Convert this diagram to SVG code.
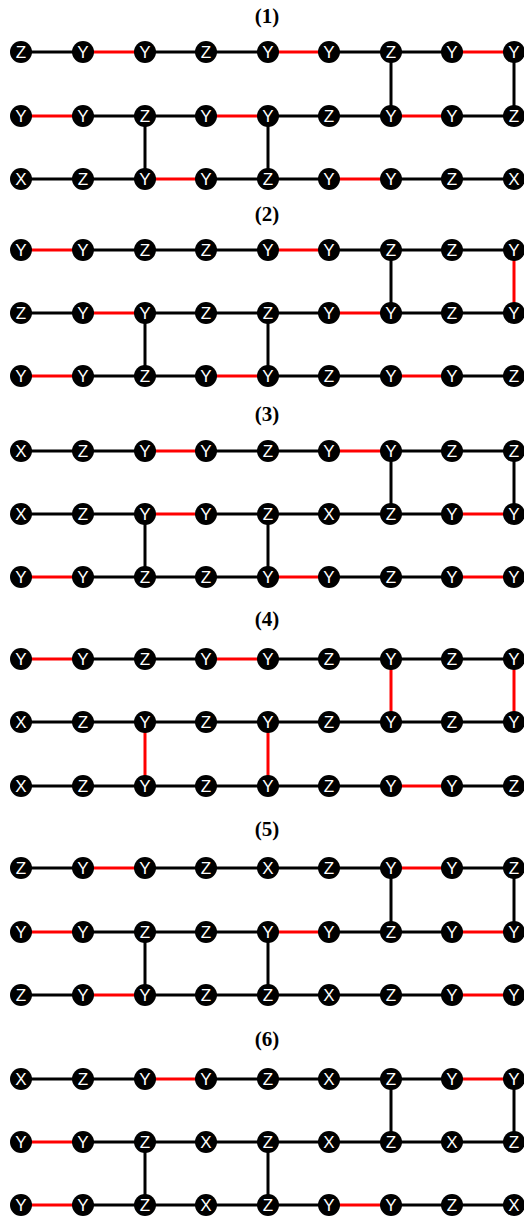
<svg xmlns="http://www.w3.org/2000/svg" width="524" height="1219" viewBox="0 0 524 1219">
<style>
.title{font-family:"Liberation Serif","Times New Roman",serif;font-weight:bold;font-size:21px;text-anchor:middle;fill:#000}
.n circle{fill:#000}
.n text{font-family:"Liberation Sans",Arial,sans-serif;font-size:17px;fill:#fff;text-anchor:middle}
.k{stroke:#000;stroke-width:3}
.r{stroke:#f00;stroke-width:3}
</style>
<rect width="524" height="1219" fill="#fff"/>
<g id="titles">
<text class="title" x="267" y="23">(1)</text>
<text class="title" x="267" y="221">(2)</text>
<text class="title" x="267" y="421">(3)</text>
<text class="title" x="267" y="626">(4)</text>
<text class="title" x="267" y="836">(5)</text>
<text class="title" x="267" y="1046">(6)</text>
</g>
<g id="connectors">
<!-- panel 1 -->
<line class="k" x1="21" y1="52" x2="83" y2="52"/><line class="r" x1="83" y1="52" x2="145" y2="52"/><line class="k" x1="145" y1="52" x2="206" y2="52"/><line class="k" x1="206" y1="52" x2="268" y2="52"/><line class="r" x1="268" y1="52" x2="329" y2="52"/><line class="k" x1="329" y1="52" x2="391" y2="52"/><line class="k" x1="391" y1="52" x2="452" y2="52"/><line class="r" x1="452" y1="52" x2="514" y2="52"/>
<line class="r" x1="21" y1="116" x2="83" y2="116"/><line class="k" x1="83" y1="116" x2="145" y2="116"/><line class="k" x1="145" y1="116" x2="206" y2="116"/><line class="r" x1="206" y1="116" x2="268" y2="116"/><line class="k" x1="268" y1="116" x2="329" y2="116"/><line class="k" x1="329" y1="116" x2="391" y2="116"/><line class="r" x1="391" y1="116" x2="452" y2="116"/><line class="k" x1="452" y1="116" x2="514" y2="116"/>
<line class="k" x1="21" y1="179" x2="83" y2="179"/><line class="k" x1="83" y1="179" x2="145" y2="179"/><line class="r" x1="145" y1="179" x2="206" y2="179"/><line class="k" x1="206" y1="179" x2="268" y2="179"/><line class="k" x1="268" y1="179" x2="329" y2="179"/><line class="r" x1="329" y1="179" x2="391" y2="179"/><line class="k" x1="391" y1="179" x2="452" y2="179"/><line class="k" x1="452" y1="179" x2="514" y2="179"/>
<line class="k" x1="145" y1="116" x2="145" y2="179"/><line class="k" x1="268" y1="116" x2="268" y2="179"/><line class="k" x1="391" y1="52" x2="391" y2="116"/><line class="k" x1="514" y1="52" x2="514" y2="116"/>
<!-- panel 2 -->
<line class="r" x1="21" y1="250" x2="83" y2="250"/><line class="k" x1="83" y1="250" x2="145" y2="250"/><line class="k" x1="145" y1="250" x2="206" y2="250"/><line class="k" x1="206" y1="250" x2="268" y2="250"/><line class="r" x1="268" y1="250" x2="329" y2="250"/><line class="k" x1="329" y1="250" x2="391" y2="250"/><line class="k" x1="391" y1="250" x2="452" y2="250"/><line class="k" x1="452" y1="250" x2="514" y2="250"/>
<line class="k" x1="21" y1="313" x2="83" y2="313"/><line class="r" x1="83" y1="313" x2="145" y2="313"/><line class="k" x1="145" y1="313" x2="206" y2="313"/><line class="k" x1="206" y1="313" x2="268" y2="313"/><line class="k" x1="268" y1="313" x2="329" y2="313"/><line class="r" x1="329" y1="313" x2="391" y2="313"/><line class="k" x1="391" y1="313" x2="452" y2="313"/><line class="k" x1="452" y1="313" x2="514" y2="313"/>
<line class="r" x1="21" y1="376" x2="83" y2="376"/><line class="k" x1="83" y1="376" x2="145" y2="376"/><line class="k" x1="145" y1="376" x2="206" y2="376"/><line class="r" x1="206" y1="376" x2="268" y2="376"/><line class="k" x1="268" y1="376" x2="329" y2="376"/><line class="k" x1="329" y1="376" x2="391" y2="376"/><line class="r" x1="391" y1="376" x2="452" y2="376"/><line class="k" x1="452" y1="376" x2="514" y2="376"/>
<line class="k" x1="145" y1="313" x2="145" y2="376"/><line class="k" x1="268" y1="313" x2="268" y2="376"/><line class="k" x1="391" y1="250" x2="391" y2="313"/><line class="r" x1="514" y1="250" x2="514" y2="313"/>
<!-- panel 3 -->
<line class="k" x1="21" y1="451" x2="83" y2="451"/><line class="k" x1="83" y1="451" x2="145" y2="451"/><line class="r" x1="145" y1="451" x2="206" y2="451"/><line class="k" x1="206" y1="451" x2="268" y2="451"/><line class="k" x1="268" y1="451" x2="329" y2="451"/><line class="r" x1="329" y1="451" x2="391" y2="451"/><line class="k" x1="391" y1="451" x2="452" y2="451"/><line class="k" x1="452" y1="451" x2="514" y2="451"/>
<line class="k" x1="21" y1="514" x2="83" y2="514"/><line class="k" x1="83" y1="514" x2="145" y2="514"/><line class="r" x1="145" y1="514" x2="206" y2="514"/><line class="k" x1="206" y1="514" x2="268" y2="514"/><line class="k" x1="268" y1="514" x2="329" y2="514"/><line class="k" x1="329" y1="514" x2="391" y2="514"/><line class="k" x1="391" y1="514" x2="452" y2="514"/><line class="r" x1="452" y1="514" x2="514" y2="514"/>
<line class="r" x1="21" y1="577" x2="83" y2="577"/><line class="k" x1="83" y1="577" x2="145" y2="577"/><line class="k" x1="145" y1="577" x2="206" y2="577"/><line class="k" x1="206" y1="577" x2="268" y2="577"/><line class="r" x1="268" y1="577" x2="329" y2="577"/><line class="k" x1="329" y1="577" x2="391" y2="577"/><line class="k" x1="391" y1="577" x2="452" y2="577"/><line class="r" x1="452" y1="577" x2="514" y2="577"/>
<line class="k" x1="145" y1="514" x2="145" y2="577"/><line class="k" x1="268" y1="514" x2="268" y2="577"/><line class="k" x1="391" y1="451" x2="391" y2="514"/><line class="k" x1="514" y1="451" x2="514" y2="514"/>
<!-- panel 4 -->
<line class="r" x1="21" y1="659" x2="83" y2="659"/><line class="k" x1="83" y1="659" x2="145" y2="659"/><line class="k" x1="145" y1="659" x2="206" y2="659"/><line class="r" x1="206" y1="659" x2="268" y2="659"/><line class="k" x1="268" y1="659" x2="329" y2="659"/><line class="k" x1="329" y1="659" x2="391" y2="659"/><line class="k" x1="391" y1="659" x2="452" y2="659"/><line class="k" x1="452" y1="659" x2="514" y2="659"/>
<line class="k" x1="21" y1="722" x2="83" y2="722"/><line class="k" x1="83" y1="722" x2="145" y2="722"/><line class="k" x1="145" y1="722" x2="206" y2="722"/><line class="k" x1="206" y1="722" x2="268" y2="722"/><line class="k" x1="268" y1="722" x2="329" y2="722"/><line class="k" x1="329" y1="722" x2="391" y2="722"/><line class="k" x1="391" y1="722" x2="452" y2="722"/><line class="k" x1="452" y1="722" x2="514" y2="722"/>
<line class="k" x1="21" y1="786" x2="83" y2="786"/><line class="k" x1="83" y1="786" x2="145" y2="786"/><line class="k" x1="145" y1="786" x2="206" y2="786"/><line class="k" x1="206" y1="786" x2="268" y2="786"/><line class="k" x1="268" y1="786" x2="329" y2="786"/><line class="k" x1="329" y1="786" x2="391" y2="786"/><line class="r" x1="391" y1="786" x2="452" y2="786"/><line class="k" x1="452" y1="786" x2="514" y2="786"/>
<line class="r" x1="145" y1="722" x2="145" y2="786"/><line class="r" x1="268" y1="722" x2="268" y2="786"/><line class="r" x1="391" y1="659" x2="391" y2="722"/><line class="r" x1="514" y1="659" x2="514" y2="722"/>
<!-- panel 5 -->
<line class="k" x1="21" y1="868" x2="83" y2="868"/><line class="r" x1="83" y1="868" x2="145" y2="868"/><line class="k" x1="145" y1="868" x2="206" y2="868"/><line class="k" x1="206" y1="868" x2="268" y2="868"/><line class="k" x1="268" y1="868" x2="329" y2="868"/><line class="k" x1="329" y1="868" x2="391" y2="868"/><line class="r" x1="391" y1="868" x2="452" y2="868"/><line class="k" x1="452" y1="868" x2="514" y2="868"/>
<line class="r" x1="21" y1="932" x2="83" y2="932"/><line class="k" x1="83" y1="932" x2="145" y2="932"/><line class="k" x1="145" y1="932" x2="206" y2="932"/><line class="k" x1="206" y1="932" x2="268" y2="932"/><line class="r" x1="268" y1="932" x2="329" y2="932"/><line class="k" x1="329" y1="932" x2="391" y2="932"/><line class="k" x1="391" y1="932" x2="452" y2="932"/><line class="r" x1="452" y1="932" x2="514" y2="932"/>
<line class="k" x1="21" y1="995" x2="83" y2="995"/><line class="r" x1="83" y1="995" x2="145" y2="995"/><line class="k" x1="145" y1="995" x2="206" y2="995"/><line class="k" x1="206" y1="995" x2="268" y2="995"/><line class="k" x1="268" y1="995" x2="329" y2="995"/><line class="k" x1="329" y1="995" x2="391" y2="995"/><line class="k" x1="391" y1="995" x2="452" y2="995"/><line class="r" x1="452" y1="995" x2="514" y2="995"/>
<line class="k" x1="145" y1="932" x2="145" y2="995"/><line class="k" x1="268" y1="932" x2="268" y2="995"/><line class="k" x1="391" y1="868" x2="391" y2="932"/><line class="k" x1="514" y1="868" x2="514" y2="932"/>
<!-- panel 6 -->
<line class="k" x1="21" y1="1079" x2="83" y2="1079"/><line class="k" x1="83" y1="1079" x2="145" y2="1079"/><line class="r" x1="145" y1="1079" x2="206" y2="1079"/><line class="k" x1="206" y1="1079" x2="268" y2="1079"/><line class="k" x1="268" y1="1079" x2="329" y2="1079"/><line class="k" x1="329" y1="1079" x2="391" y2="1079"/><line class="k" x1="391" y1="1079" x2="452" y2="1079"/><line class="r" x1="452" y1="1079" x2="514" y2="1079"/>
<line class="r" x1="21" y1="1142" x2="83" y2="1142"/><line class="k" x1="83" y1="1142" x2="145" y2="1142"/><line class="k" x1="145" y1="1142" x2="206" y2="1142"/><line class="k" x1="206" y1="1142" x2="268" y2="1142"/><line class="k" x1="268" y1="1142" x2="329" y2="1142"/><line class="k" x1="329" y1="1142" x2="391" y2="1142"/><line class="k" x1="391" y1="1142" x2="452" y2="1142"/><line class="k" x1="452" y1="1142" x2="514" y2="1142"/>
<line class="r" x1="21" y1="1205" x2="83" y2="1205"/><line class="k" x1="83" y1="1205" x2="145" y2="1205"/><line class="k" x1="145" y1="1205" x2="206" y2="1205"/><line class="k" x1="206" y1="1205" x2="268" y2="1205"/><line class="k" x1="268" y1="1205" x2="329" y2="1205"/><line class="r" x1="329" y1="1205" x2="391" y2="1205"/><line class="k" x1="391" y1="1205" x2="452" y2="1205"/><line class="k" x1="452" y1="1205" x2="514" y2="1205"/>
<line class="k" x1="145" y1="1142" x2="145" y2="1205"/><line class="k" x1="268" y1="1142" x2="268" y2="1205"/><line class="k" x1="391" y1="1079" x2="391" y2="1142"/><line class="k" x1="514" y1="1079" x2="514" y2="1142"/>
</g>
<g id="panel1">
<g id="n1-1-1" class="n" transform="translate(21,52)"><circle r="11"/><text y="6">Z</text></g>
<g id="n1-1-2" class="n" transform="translate(83,52)"><circle r="11"/><text y="6">Y</text></g>
<g id="n1-1-3" class="n" transform="translate(145,52)"><circle r="11"/><text y="6">Y</text></g>
<g id="n1-1-4" class="n" transform="translate(206,52)"><circle r="11"/><text y="6">Z</text></g>
<g id="n1-1-5" class="n" transform="translate(268,52)"><circle r="11"/><text y="6">Y</text></g>
<g id="n1-1-6" class="n" transform="translate(329,52)"><circle r="11"/><text y="6">Y</text></g>
<g id="n1-1-7" class="n" transform="translate(391,52)"><circle r="11"/><text y="6">Z</text></g>
<g id="n1-1-8" class="n" transform="translate(452,52)"><circle r="11"/><text y="6">Y</text></g>
<g id="n1-1-9" class="n" transform="translate(514,52)"><circle r="11"/><text y="6">Y</text></g>
<g id="n1-2-1" class="n" transform="translate(21,116)"><circle r="11"/><text y="6">Y</text></g>
<g id="n1-2-2" class="n" transform="translate(83,116)"><circle r="11"/><text y="6">Y</text></g>
<g id="n1-2-3" class="n" transform="translate(145,116)"><circle r="11"/><text y="6">Z</text></g>
<g id="n1-2-4" class="n" transform="translate(206,116)"><circle r="11"/><text y="6">Y</text></g>
<g id="n1-2-5" class="n" transform="translate(268,116)"><circle r="11"/><text y="6">Y</text></g>
<g id="n1-2-6" class="n" transform="translate(329,116)"><circle r="11"/><text y="6">Z</text></g>
<g id="n1-2-7" class="n" transform="translate(391,116)"><circle r="11"/><text y="6">Y</text></g>
<g id="n1-2-8" class="n" transform="translate(452,116)"><circle r="11"/><text y="6">Y</text></g>
<g id="n1-2-9" class="n" transform="translate(514,116)"><circle r="11"/><text y="6">Z</text></g>
<g id="n1-3-1" class="n" transform="translate(21,179)"><circle r="11"/><text y="6">X</text></g>
<g id="n1-3-2" class="n" transform="translate(83,179)"><circle r="11"/><text y="6">Z</text></g>
<g id="n1-3-3" class="n" transform="translate(145,179)"><circle r="11"/><text y="6">Y</text></g>
<g id="n1-3-4" class="n" transform="translate(206,179)"><circle r="11"/><text y="6">Y</text></g>
<g id="n1-3-5" class="n" transform="translate(268,179)"><circle r="11"/><text y="6">Z</text></g>
<g id="n1-3-6" class="n" transform="translate(329,179)"><circle r="11"/><text y="6">Y</text></g>
<g id="n1-3-7" class="n" transform="translate(391,179)"><circle r="11"/><text y="6">Y</text></g>
<g id="n1-3-8" class="n" transform="translate(452,179)"><circle r="11"/><text y="6">Z</text></g>
<g id="n1-3-9" class="n" transform="translate(514,179)"><circle r="11"/><text y="6">X</text></g>
</g>
<g id="panel2">
<g id="n2-1-1" class="n" transform="translate(21,250)"><circle r="11"/><text y="6">Y</text></g>
<g id="n2-1-2" class="n" transform="translate(83,250)"><circle r="11"/><text y="6">Y</text></g>
<g id="n2-1-3" class="n" transform="translate(145,250)"><circle r="11"/><text y="6">Z</text></g>
<g id="n2-1-4" class="n" transform="translate(206,250)"><circle r="11"/><text y="6">Z</text></g>
<g id="n2-1-5" class="n" transform="translate(268,250)"><circle r="11"/><text y="6">Y</text></g>
<g id="n2-1-6" class="n" transform="translate(329,250)"><circle r="11"/><text y="6">Y</text></g>
<g id="n2-1-7" class="n" transform="translate(391,250)"><circle r="11"/><text y="6">Z</text></g>
<g id="n2-1-8" class="n" transform="translate(452,250)"><circle r="11"/><text y="6">Z</text></g>
<g id="n2-1-9" class="n" transform="translate(514,250)"><circle r="11"/><text y="6">Y</text></g>
<g id="n2-2-1" class="n" transform="translate(21,313)"><circle r="11"/><text y="6">Z</text></g>
<g id="n2-2-2" class="n" transform="translate(83,313)"><circle r="11"/><text y="6">Y</text></g>
<g id="n2-2-3" class="n" transform="translate(145,313)"><circle r="11"/><text y="6">Y</text></g>
<g id="n2-2-4" class="n" transform="translate(206,313)"><circle r="11"/><text y="6">Z</text></g>
<g id="n2-2-5" class="n" transform="translate(268,313)"><circle r="11"/><text y="6">Z</text></g>
<g id="n2-2-6" class="n" transform="translate(329,313)"><circle r="11"/><text y="6">Y</text></g>
<g id="n2-2-7" class="n" transform="translate(391,313)"><circle r="11"/><text y="6">Y</text></g>
<g id="n2-2-8" class="n" transform="translate(452,313)"><circle r="11"/><text y="6">Z</text></g>
<g id="n2-2-9" class="n" transform="translate(514,313)"><circle r="11"/><text y="6">Y</text></g>
<g id="n2-3-1" class="n" transform="translate(21,376)"><circle r="11"/><text y="6">Y</text></g>
<g id="n2-3-2" class="n" transform="translate(83,376)"><circle r="11"/><text y="6">Y</text></g>
<g id="n2-3-3" class="n" transform="translate(145,376)"><circle r="11"/><text y="6">Z</text></g>
<g id="n2-3-4" class="n" transform="translate(206,376)"><circle r="11"/><text y="6">Y</text></g>
<g id="n2-3-5" class="n" transform="translate(268,376)"><circle r="11"/><text y="6">Y</text></g>
<g id="n2-3-6" class="n" transform="translate(329,376)"><circle r="11"/><text y="6">Z</text></g>
<g id="n2-3-7" class="n" transform="translate(391,376)"><circle r="11"/><text y="6">Y</text></g>
<g id="n2-3-8" class="n" transform="translate(452,376)"><circle r="11"/><text y="6">Y</text></g>
<g id="n2-3-9" class="n" transform="translate(514,376)"><circle r="11"/><text y="6">Z</text></g>
</g>
<g id="panel3">
<g id="n3-1-1" class="n" transform="translate(21,451)"><circle r="11"/><text y="6">X</text></g>
<g id="n3-1-2" class="n" transform="translate(83,451)"><circle r="11"/><text y="6">Z</text></g>
<g id="n3-1-3" class="n" transform="translate(145,451)"><circle r="11"/><text y="6">Y</text></g>
<g id="n3-1-4" class="n" transform="translate(206,451)"><circle r="11"/><text y="6">Y</text></g>
<g id="n3-1-5" class="n" transform="translate(268,451)"><circle r="11"/><text y="6">Z</text></g>
<g id="n3-1-6" class="n" transform="translate(329,451)"><circle r="11"/><text y="6">Y</text></g>
<g id="n3-1-7" class="n" transform="translate(391,451)"><circle r="11"/><text y="6">Y</text></g>
<g id="n3-1-8" class="n" transform="translate(452,451)"><circle r="11"/><text y="6">Z</text></g>
<g id="n3-1-9" class="n" transform="translate(514,451)"><circle r="11"/><text y="6">Z</text></g>
<g id="n3-2-1" class="n" transform="translate(21,514)"><circle r="11"/><text y="6">X</text></g>
<g id="n3-2-2" class="n" transform="translate(83,514)"><circle r="11"/><text y="6">Z</text></g>
<g id="n3-2-3" class="n" transform="translate(145,514)"><circle r="11"/><text y="6">Y</text></g>
<g id="n3-2-4" class="n" transform="translate(206,514)"><circle r="11"/><text y="6">Y</text></g>
<g id="n3-2-5" class="n" transform="translate(268,514)"><circle r="11"/><text y="6">Z</text></g>
<g id="n3-2-6" class="n" transform="translate(329,514)"><circle r="11"/><text y="6">X</text></g>
<g id="n3-2-7" class="n" transform="translate(391,514)"><circle r="11"/><text y="6">Z</text></g>
<g id="n3-2-8" class="n" transform="translate(452,514)"><circle r="11"/><text y="6">Y</text></g>
<g id="n3-2-9" class="n" transform="translate(514,514)"><circle r="11"/><text y="6">Y</text></g>
<g id="n3-3-1" class="n" transform="translate(21,577)"><circle r="11"/><text y="6">Y</text></g>
<g id="n3-3-2" class="n" transform="translate(83,577)"><circle r="11"/><text y="6">Y</text></g>
<g id="n3-3-3" class="n" transform="translate(145,577)"><circle r="11"/><text y="6">Z</text></g>
<g id="n3-3-4" class="n" transform="translate(206,577)"><circle r="11"/><text y="6">Z</text></g>
<g id="n3-3-5" class="n" transform="translate(268,577)"><circle r="11"/><text y="6">Y</text></g>
<g id="n3-3-6" class="n" transform="translate(329,577)"><circle r="11"/><text y="6">Y</text></g>
<g id="n3-3-7" class="n" transform="translate(391,577)"><circle r="11"/><text y="6">Z</text></g>
<g id="n3-3-8" class="n" transform="translate(452,577)"><circle r="11"/><text y="6">Y</text></g>
<g id="n3-3-9" class="n" transform="translate(514,577)"><circle r="11"/><text y="6">Y</text></g>
</g>
<g id="panel4">
<g id="n4-1-1" class="n" transform="translate(21,659)"><circle r="11"/><text y="6">Y</text></g>
<g id="n4-1-2" class="n" transform="translate(83,659)"><circle r="11"/><text y="6">Y</text></g>
<g id="n4-1-3" class="n" transform="translate(145,659)"><circle r="11"/><text y="6">Z</text></g>
<g id="n4-1-4" class="n" transform="translate(206,659)"><circle r="11"/><text y="6">Y</text></g>
<g id="n4-1-5" class="n" transform="translate(268,659)"><circle r="11"/><text y="6">Y</text></g>
<g id="n4-1-6" class="n" transform="translate(329,659)"><circle r="11"/><text y="6">Z</text></g>
<g id="n4-1-7" class="n" transform="translate(391,659)"><circle r="11"/><text y="6">Y</text></g>
<g id="n4-1-8" class="n" transform="translate(452,659)"><circle r="11"/><text y="6">Z</text></g>
<g id="n4-1-9" class="n" transform="translate(514,659)"><circle r="11"/><text y="6">Y</text></g>
<g id="n4-2-1" class="n" transform="translate(21,722)"><circle r="11"/><text y="6">X</text></g>
<g id="n4-2-2" class="n" transform="translate(83,722)"><circle r="11"/><text y="6">Z</text></g>
<g id="n4-2-3" class="n" transform="translate(145,722)"><circle r="11"/><text y="6">Y</text></g>
<g id="n4-2-4" class="n" transform="translate(206,722)"><circle r="11"/><text y="6">Z</text></g>
<g id="n4-2-5" class="n" transform="translate(268,722)"><circle r="11"/><text y="6">Y</text></g>
<g id="n4-2-6" class="n" transform="translate(329,722)"><circle r="11"/><text y="6">Z</text></g>
<g id="n4-2-7" class="n" transform="translate(391,722)"><circle r="11"/><text y="6">Y</text></g>
<g id="n4-2-8" class="n" transform="translate(452,722)"><circle r="11"/><text y="6">Z</text></g>
<g id="n4-2-9" class="n" transform="translate(514,722)"><circle r="11"/><text y="6">Y</text></g>
<g id="n4-3-1" class="n" transform="translate(21,786)"><circle r="11"/><text y="6">X</text></g>
<g id="n4-3-2" class="n" transform="translate(83,786)"><circle r="11"/><text y="6">Z</text></g>
<g id="n4-3-3" class="n" transform="translate(145,786)"><circle r="11"/><text y="6">Y</text></g>
<g id="n4-3-4" class="n" transform="translate(206,786)"><circle r="11"/><text y="6">Z</text></g>
<g id="n4-3-5" class="n" transform="translate(268,786)"><circle r="11"/><text y="6">Y</text></g>
<g id="n4-3-6" class="n" transform="translate(329,786)"><circle r="11"/><text y="6">Z</text></g>
<g id="n4-3-7" class="n" transform="translate(391,786)"><circle r="11"/><text y="6">Y</text></g>
<g id="n4-3-8" class="n" transform="translate(452,786)"><circle r="11"/><text y="6">Y</text></g>
<g id="n4-3-9" class="n" transform="translate(514,786)"><circle r="11"/><text y="6">Z</text></g>
</g>
<g id="panel5">
<g id="n5-1-1" class="n" transform="translate(21,868)"><circle r="11"/><text y="6">Z</text></g>
<g id="n5-1-2" class="n" transform="translate(83,868)"><circle r="11"/><text y="6">Y</text></g>
<g id="n5-1-3" class="n" transform="translate(145,868)"><circle r="11"/><text y="6">Y</text></g>
<g id="n5-1-4" class="n" transform="translate(206,868)"><circle r="11"/><text y="6">Z</text></g>
<g id="n5-1-5" class="n" transform="translate(268,868)"><circle r="11"/><text y="6">X</text></g>
<g id="n5-1-6" class="n" transform="translate(329,868)"><circle r="11"/><text y="6">Z</text></g>
<g id="n5-1-7" class="n" transform="translate(391,868)"><circle r="11"/><text y="6">Y</text></g>
<g id="n5-1-8" class="n" transform="translate(452,868)"><circle r="11"/><text y="6">Y</text></g>
<g id="n5-1-9" class="n" transform="translate(514,868)"><circle r="11"/><text y="6">Z</text></g>
<g id="n5-2-1" class="n" transform="translate(21,932)"><circle r="11"/><text y="6">Y</text></g>
<g id="n5-2-2" class="n" transform="translate(83,932)"><circle r="11"/><text y="6">Y</text></g>
<g id="n5-2-3" class="n" transform="translate(145,932)"><circle r="11"/><text y="6">Z</text></g>
<g id="n5-2-4" class="n" transform="translate(206,932)"><circle r="11"/><text y="6">Z</text></g>
<g id="n5-2-5" class="n" transform="translate(268,932)"><circle r="11"/><text y="6">Y</text></g>
<g id="n5-2-6" class="n" transform="translate(329,932)"><circle r="11"/><text y="6">Y</text></g>
<g id="n5-2-7" class="n" transform="translate(391,932)"><circle r="11"/><text y="6">Z</text></g>
<g id="n5-2-8" class="n" transform="translate(452,932)"><circle r="11"/><text y="6">Y</text></g>
<g id="n5-2-9" class="n" transform="translate(514,932)"><circle r="11"/><text y="6">Y</text></g>
<g id="n5-3-1" class="n" transform="translate(21,995)"><circle r="11"/><text y="6">Z</text></g>
<g id="n5-3-2" class="n" transform="translate(83,995)"><circle r="11"/><text y="6">Y</text></g>
<g id="n5-3-3" class="n" transform="translate(145,995)"><circle r="11"/><text y="6">Y</text></g>
<g id="n5-3-4" class="n" transform="translate(206,995)"><circle r="11"/><text y="6">Z</text></g>
<g id="n5-3-5" class="n" transform="translate(268,995)"><circle r="11"/><text y="6">Z</text></g>
<g id="n5-3-6" class="n" transform="translate(329,995)"><circle r="11"/><text y="6">X</text></g>
<g id="n5-3-7" class="n" transform="translate(391,995)"><circle r="11"/><text y="6">Z</text></g>
<g id="n5-3-8" class="n" transform="translate(452,995)"><circle r="11"/><text y="6">Y</text></g>
<g id="n5-3-9" class="n" transform="translate(514,995)"><circle r="11"/><text y="6">Y</text></g>
</g>
<g id="panel6">
<g id="n6-1-1" class="n" transform="translate(21,1079)"><circle r="11"/><text y="6">X</text></g>
<g id="n6-1-2" class="n" transform="translate(83,1079)"><circle r="11"/><text y="6">Z</text></g>
<g id="n6-1-3" class="n" transform="translate(145,1079)"><circle r="11"/><text y="6">Y</text></g>
<g id="n6-1-4" class="n" transform="translate(206,1079)"><circle r="11"/><text y="6">Y</text></g>
<g id="n6-1-5" class="n" transform="translate(268,1079)"><circle r="11"/><text y="6">Z</text></g>
<g id="n6-1-6" class="n" transform="translate(329,1079)"><circle r="11"/><text y="6">X</text></g>
<g id="n6-1-7" class="n" transform="translate(391,1079)"><circle r="11"/><text y="6">Z</text></g>
<g id="n6-1-8" class="n" transform="translate(452,1079)"><circle r="11"/><text y="6">Y</text></g>
<g id="n6-1-9" class="n" transform="translate(514,1079)"><circle r="11"/><text y="6">Y</text></g>
<g id="n6-2-1" class="n" transform="translate(21,1142)"><circle r="11"/><text y="6">Y</text></g>
<g id="n6-2-2" class="n" transform="translate(83,1142)"><circle r="11"/><text y="6">Y</text></g>
<g id="n6-2-3" class="n" transform="translate(145,1142)"><circle r="11"/><text y="6">Z</text></g>
<g id="n6-2-4" class="n" transform="translate(206,1142)"><circle r="11"/><text y="6">X</text></g>
<g id="n6-2-5" class="n" transform="translate(268,1142)"><circle r="11"/><text y="6">Z</text></g>
<g id="n6-2-6" class="n" transform="translate(329,1142)"><circle r="11"/><text y="6">X</text></g>
<g id="n6-2-7" class="n" transform="translate(391,1142)"><circle r="11"/><text y="6">Z</text></g>
<g id="n6-2-8" class="n" transform="translate(452,1142)"><circle r="11"/><text y="6">X</text></g>
<g id="n6-2-9" class="n" transform="translate(514,1142)"><circle r="11"/><text y="6">Z</text></g>
<g id="n6-3-1" class="n" transform="translate(21,1205)"><circle r="11"/><text y="6">Y</text></g>
<g id="n6-3-2" class="n" transform="translate(83,1205)"><circle r="11"/><text y="6">Y</text></g>
<g id="n6-3-3" class="n" transform="translate(145,1205)"><circle r="11"/><text y="6">Z</text></g>
<g id="n6-3-4" class="n" transform="translate(206,1205)"><circle r="11"/><text y="6">X</text></g>
<g id="n6-3-5" class="n" transform="translate(268,1205)"><circle r="11"/><text y="6">Z</text></g>
<g id="n6-3-6" class="n" transform="translate(329,1205)"><circle r="11"/><text y="6">Y</text></g>
<g id="n6-3-7" class="n" transform="translate(391,1205)"><circle r="11"/><text y="6">Y</text></g>
<g id="n6-3-8" class="n" transform="translate(452,1205)"><circle r="11"/><text y="6">Z</text></g>
<g id="n6-3-9" class="n" transform="translate(514,1205)"><circle r="11"/><text y="6">X</text></g>
</g>
</svg>
